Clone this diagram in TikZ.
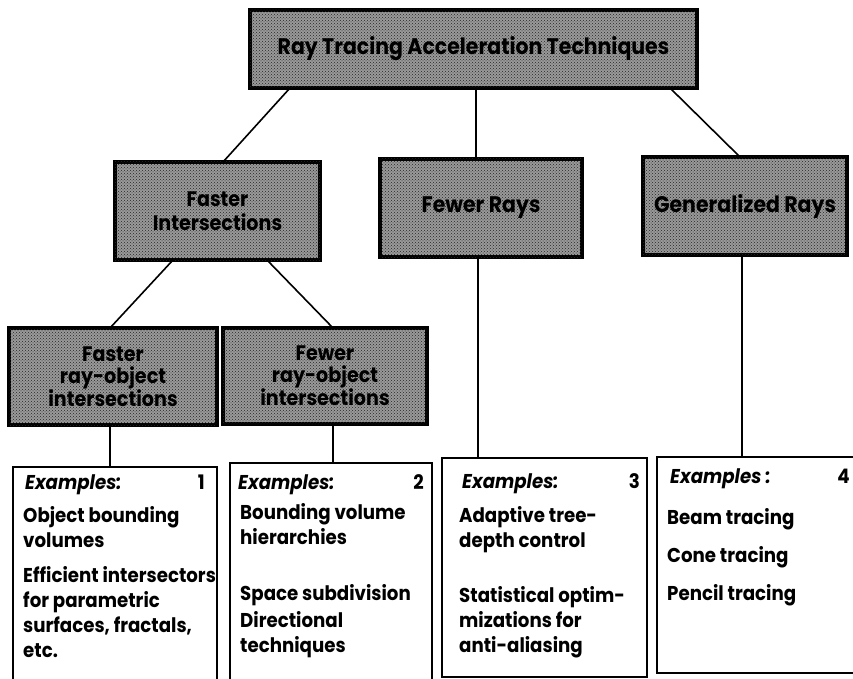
\documentclass[tikz,border=0pt]{standalone}
\usepackage{fontspec}
\setmainfont{Poppins}[FakeStretch=0.91]
\usetikzlibrary{calc, patterns}

\begin{document}
\begin{tikzpicture}[x=1pt, y=1pt,
	stipple/.style={draw, line width=3.5pt, fill=black!40, outer sep=0pt,
		postaction={pattern=crosshatch dots, pattern color=black!85},
		inner sep=0pt, align=center},
	bigtext/.style={font=\bfseries\fontsize{22.5}{24}\selectfont},
	midtext/.style={font=\bfseries\fontsize{22.5}{24}\selectfont},
	smalltext/.style={font=\bfseries\fontsize{21}{22}\selectfont},
	exbox/.style={draw, line width=1.6pt, inner sep=0pt, outer sep=0pt},
	exhead/.style={anchor=base west, inner sep=0pt, font=\bfseries\itshape\fontsize{20}{24}\selectfont},
	exnum/.style={anchor=base east, inner sep=0pt, font=\bfseries\fontsize{20}{24}\selectfont},
	exbody/.style={anchor=base west, inner sep=0pt, align=left, font=\bfseries\fontsize{20}{25}\selectfont},
	link/.style={line width=1.6pt}]
	
	\useasboundingbox (0,0) rectangle (853,-679);
	
	% shaded boxes
	\node[stipple, bigtext, minimum width=447, minimum height=78] (top) at (473.5,-49) {Ray Tracing Acceleration Techniques};
	\node[stipple, midtext, font=\bfseries\fontsize{21}{24}\selectfont, minimum width=205, minimum height=98] (fi) at (217.5,-211) {Faster\\Intersections};
	\node[stipple, midtext, minimum width=202, minimum height=98] (fr) at (481,-208) {Fewer Rays};
	\node[stipple, midtext, minimum width=204, minimum height=98] (gr) at (745,-206) {Generalized Rays};
	\node[stipple, smalltext, minimum width=208, minimum height=97] (fa) at (113,-376.5) {Faster\\ray-object\\intersections};
	\node[stipple, smalltext, minimum width=204, minimum height=96] (fe) at (325,-376) {Fewer\\ray-object\\intersections};
	
	% example boxes
	\node[exbox, minimum width=204, minimum height=217] (ex1) at (115,-575.5) {};
	\node[exbox, minimum width=202, minimum height=221] (ex2) at (331,-573.5) {};
	\node[exbox, minimum width=205, minimum height=219] (ex3) at (544.5,-567.5) {};
	\node[exbox, minimum width=200, minimum height=216] (ex4) at (757,-565) {};
	
	\node[exhead] (h1) at ([shift={(12,-22)}]ex1.north west) {Examples:};
	\node[exnum] (n1) at ([shift={(-12,-22)}]ex1.north east) {1};
	\node[exbody] (b1) at ([shift={(10,-190)}]ex1.north west) {Object bounding\\volumes\\[10pt]Efficient intersectors\\for parametric\\surfaces, fractals,\\etc.};
	
	\node[exhead] (h2) at ([shift={(8,-26)}]ex2.north west) {Examples:};
	\node[exnum] (n2) at ([shift={(-8,-26)}]ex2.north east) {2};
	\node[exbody] (b2) at ([shift={(10,-189)}]ex2.north west) {Bounding volume\\hierarchies\\[31pt]Space subdivision\\[2pt]Directional\\techniques};
	
	\node[exhead] (h3) at ([shift={(20,-30)}]ex3.north west) {Examples:};
	\node[exnum] (n3) at ([shift={(-7,-30)}]ex3.north east) {3};
	\node[exbody] (b3) at ([shift={(17,-194)}]ex3.north west) {Adaptive tree-\\depth control\\[30pt]Statistical optim-\\mizations for\\anti-aliasing};
	
	\node[exhead] (h4) at ([shift={(13,-26)}]ex4.north west) {Examples :};
	\node[exnum] (n4) at ([shift={(-7,-26)}]ex4.north east) {4};
	\node[exbody] (b4) at ([shift={(10,-143)}]ex4.north west) {Beam tracing\\[13pt]Cone tracing\\[13pt]Pencil tracing};
	
	% connectors
	\draw[link] ([xshift=40]top.south west) -- ([xshift=5.5]fi.north);
	\coordinate (frtop) at ([xshift=-5]fr.north);
	\draw[link] (frtop) -- (frtop |- top.south);
	\draw[link] ([xshift=-27]top.south east) -- ([xshift=-5]gr.north);
	\draw[link] ([xshift=-44.5]fi.south) -- ([xshift=-3]fa.north);
	\draw[link] ([xshift=49.5]fi.south) -- ([xshift=8]fe.north);
	\coordinate (fadown) at ([xshift=-3]fa.south);
	\draw[link] (fadown) -- (fadown |- ex1.north);
	\coordinate (fedown) at ([xshift=8]fe.south);
	\draw[link] (fedown) -- (fedown |- ex2.north);
	\coordinate (frdown) at ([xshift=-3]fr.south);
	\draw[link] (frdown) -- (frdown |- ex3.north);
	\coordinate (grdown) at ([xshift=-3]gr.south);
	\draw[link] (grdown) -- (grdown |- ex4.north);
	
\end{tikzpicture}
\end{document}
